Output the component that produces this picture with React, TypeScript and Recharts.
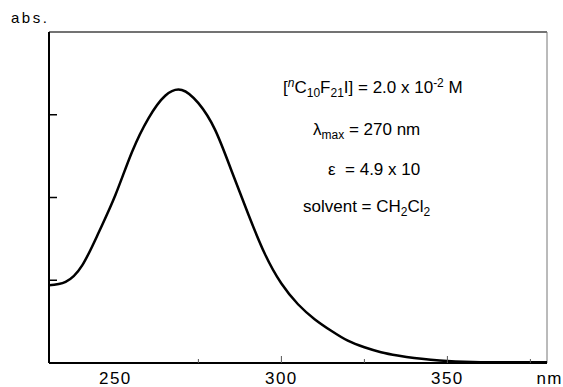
import { LineChart, Line, XAxis, YAxis, ReferenceLine } from 'recharts'

// wavelength (nm) and absorbance
const WAVELENGTH = [
  230, 235, 240, 245, 250, 255, 260, 265, 270, 275, 280, 285, 290, 295, 300, 305,
  310, 315, 320, 325, 330, 335, 340, 345, 350, 355, 360, 365, 370, 375, 380,
]
const ABSORBANCE = [
  0.94, 0.98, 1.18, 1.58, 2.03, 2.55, 2.96, 3.23, 3.3, 3.14, 2.82, 2.32, 1.8, 1.32, 0.96, 0.71,
  0.53, 0.39, 0.27, 0.19, 0.13, 0.09, 0.06, 0.04, 0.025, 0.015, 0.01, 0.01, 0.01, 0.01, 0.01,
]
const X_TICKS = [250, 275, 300, 325, 350, 375]
const X_LABELS = [250, 300, 350]
const X_MAJOR = [300, 350]
const Y_TICKS = [1, 2, 3]

const data = WAVELENGTH.map((nm, i) => ({ nm, abs: ABSORBANCE[i] }))

const FONT = '"Liberation Sans", Arial, Helvetica, sans-serif'

const XTick = ({ x, y, payload }: any) => {
  const v = payload.value
  const len = X_MAJOR.includes(v) ? 7 : 4
  return (
    <g>
      {v !== 250 && <line x1={x} x2={x} y1={y} y2={y - len} stroke="#555" strokeWidth={1} />}
      {X_LABELS.includes(v) && (
        <text x={x} y={y + 21} textAnchor="middle" fontSize={17} letterSpacing={1.5} fill="#000" fontFamily={FONT}>
          {v}
        </text>
      )}
    </g>
  )
}

const YTick = ({ x, y }: any) => <line x1={x} x2={x + 8} y1={y} y2={y} stroke="#000" strokeWidth={1.5} />

export default function App() {
  return (
    <div style={{ position: 'absolute', left: 0, top: 0, width: 563, height: 387, background: '#fff' }}>
      <LineChart width={563} height={387} data={data} margin={{ top: 32, right: 16, bottom: 0, left: 0 }}>
        <XAxis
          dataKey="nm"
          type="number"
          domain={[230, 380]}
          ticks={X_TICKS}
          tick={<XTick />}
          tickLine={false}
          tickSize={0}
          tickMargin={0}
          height={24}
          axisLine={{ stroke: '#000', strokeWidth: 2 }}
          interval={0}
        />
        <YAxis
          type="number"
          domain={[0, 4]}
          ticks={Y_TICKS}
          tick={<YTick />}
          tickLine={false}
          tickSize={0}
          tickMargin={0}
          width={49}
          axisLine={{ stroke: '#000', strokeWidth: 2 }}
          interval={0}
        />
        <ReferenceLine y={4} stroke="#444" strokeWidth={1.5} />
        <ReferenceLine x={380} stroke="#777" strokeWidth={1} />
        <Line
          type="natural"
          dataKey="abs"
          stroke="#000"
          strokeWidth={2.5}
          dot={false}
          isAnimationActive={false}
        />
      </LineChart>
      <svg
        width={563}
        height={387}
        style={{ position: 'absolute', left: 0, top: 0, pointerEvents: 'none' }}
        fontFamily={FONT}
      >
        <text x={11} y={23} fontSize={15} letterSpacing={2.5} fill="#000">abs.</text>
        <text x={563} y={384} fontSize={17} letterSpacing={1.5} fill="#000" textAnchor="end">nm</text>
        <g fontSize={17} fill="#000">
          <text x={283} y={93}>
            [<tspan fontSize={12} fontStyle="italic" dy={-6}>n</tspan>
            <tspan dy={6}>C</tspan>
            <tspan fontSize={12} dy={4}>10</tspan>
            <tspan dy={-4}>F</tspan>
            <tspan fontSize={12} dy={4}>21</tspan>
            <tspan dy={-4}>I] = 2.0 x 10</tspan>
            <tspan fontSize={12} dy={-6}>-2</tspan>
            <tspan dy={6}> M</tspan>
          </text>
          <text x={313} y={135}>
            λ<tspan fontSize={12} dy={4}>max</tspan>
            <tspan dy={-4}> = 270 nm</tspan>
          </text>
          <text x={328} y={175} xmlSpace="preserve">ε  = 4.9 x 10</text>
          <text x={303} y={212}>
            solvent = CH<tspan fontSize={12} dy={4}>2</tspan>
            <tspan dy={-4}>Cl</tspan>
            <tspan fontSize={12} dy={4}>2</tspan>
          </text>
        </g>
      </svg>
    </div>
  )
}
